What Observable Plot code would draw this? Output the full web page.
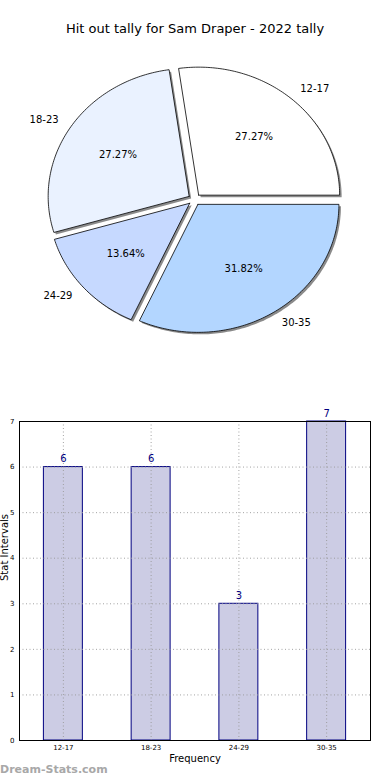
<!DOCTYPE html>
<html>
<head>
<meta charset="utf-8">
<script src="https://cdn.jsdelivr.net/npm/d3@7"></script>
<script src="https://cdn.jsdelivr.net/npm/@observablehq/plot@0.6"></script>
<style>
  html, body { margin: 0; padding: 0; background: #fff; }
  body { width: 390px; height: 780px; position: relative; overflow: hidden; font-family: "DejaVu Sans", sans-serif; }
  #title { position: absolute; top: 21px; left: 0; width: 390px; text-align: center; font-size: 13px; color: #000; }
  #pie { position: absolute; top: 0; left: 0; }
  #bar { position: absolute; top: 400px; left: 0; }
  #wm { position: absolute; top: 763px; left: 0; font-size: 11px; font-weight: bold; color: #a8a8a8; }
</style>
</head>
<body>
<div id="title">Hit out tally for Sam Draper - 2022 tally</div>
<div id="pie"></div>
<div id="bar"></div>
<div id="wm">Dream-Stats.com</div>
<script>
const categories = ["12-17", "18-23", "24-29", "30-35"];
const counts = [6, 6, 3, 7];
const pieColors = ["#ffffff", "#eaf2ff", "#c6d9ff", "#b3d6ff"];
const explode = 0.045;

const total = d3.sum(counts);
const cum = [0, ...d3.cumsum(counts)];
const slices = categories.map((c, i) => {
  const a0 = cum[i] / total * 2 * Math.PI;
  const a1 = cum[i + 1] / total * 2 * Math.PI;
  const mid = (a0 + a1) / 2;
  return { cat: c, value: counts[i], pct: (counts[i] / total * 100).toFixed(2) + "%",
           color: pieColors[i], a0, a1, mid,
           ox: explode * Math.cos(mid), oy: explode * Math.sin(mid) };
});

const poly = [];
for (const s of slices) {
  poly.push({ cat: s.cat, color: s.color, x: s.ox, y: s.oy });
  const n = Math.max(2, Math.ceil((s.a1 - s.a0) / (Math.PI / 180)));
  for (let k = 0; k <= n; k++) {
    const t = s.a0 + (s.a1 - s.a0) * k / n;
    poly.push({ cat: s.cat, color: s.color, x: s.ox + Math.cos(t), y: s.oy + Math.sin(t) });
  }
  poly.push({ cat: s.cat, color: s.color, x: s.ox, y: s.oy });
}

const labels = slices.map(s => ({
  cat: s.cat, pct: s.pct, right: Math.cos(s.mid) >= 0,
  lx: s.ox + 1.1 * Math.cos(s.mid), ly: s.oy + 1.1 * Math.sin(s.mid),
  px: s.ox + 0.6 * Math.cos(s.mid), py: s.oy + 0.6 * Math.sin(s.mid)
}));

const cx = 194, cy = 199, rx = 141, ry = 128;
const pie = Plot.plot({
  width: 390, height: 360, margin: 0,
  style: { fontFamily: "DejaVu Sans, sans-serif", background: "transparent" },
  x: { domain: [-1, 1], range: [cx - rx, cx + rx], axis: null },
  y: { domain: [-1, 1], range: [cy + ry, cy - ry], axis: null },
  color: { type: "identity" },
  marks: [
    Plot.line(poly, { x: "x", y: "y", z: "cat", fill: "#8a8a8a", stroke: "none", dx: 2, dy: 2, curve: "linear" }),
    Plot.line(poly, { x: "x", y: "y", z: "cat", fill: "color", stroke: "#000", strokeWidth: 0.8, curve: "linear" }),
    Plot.text(labels.filter(d => d.right), { x: "lx", y: "ly", text: "cat", textAnchor: "start", fontSize: 10, fill: "#000" }),
    Plot.text(labels.filter(d => !d.right), { x: "lx", y: "ly", text: "cat", textAnchor: "end", fontSize: 10, fill: "#000" }),
    Plot.text(labels, { x: "px", y: "py", text: "pct", fontSize: 10, fill: "#000" })
  ]
});
document.getElementById("pie").appendChild(pie);

const barData = categories.map((c, i) => ({ cat: c, count: counts[i] }));
const yTicks = [0, 1, 2, 3, 4, 5, 6, 7];
const bar = Plot.plot({
  width: 390, height: 380,
  marginTop: 21, marginBottom: 40, marginLeft: 19, marginRight: 20,
  style: { fontFamily: "DejaVu Sans, sans-serif", background: "transparent" },
  x: { domain: categories, paddingInner: 0.556, paddingOuter: 0.278, round: false, axis: null },
  y: { domain: [0, 7], axis: null },
  marks: [
    Plot.barY(barData, { x: "cat", y: "count", fill: "#ccccE4", stroke: "#000080", strokeWidth: 1 }),
    Plot.gridY(yTicks, { stroke: "#999", strokeOpacity: 0.9, strokeDasharray: "1,2.5" }),
    Plot.gridX(categories, { stroke: "#999", strokeOpacity: 0.9, strokeDasharray: "1,2.5" }),
    Plot.frame({ stroke: "#000", strokeWidth: 1 }),
    Plot.axisY(yTicks, { tickSize: 0, tickPadding: 5, fontSize: 7, label: null }),
    Plot.axisX({ tickSize: 0, tickPadding: 5, fontSize: 7, label: null }),
    Plot.text(["Stat Intervals"], { frameAnchor: "left", dx: -15, rotate: -90, fontSize: 10, fill: "#000" }),
    Plot.text(barData, { x: "cat", y: "count", text: d => String(d.count), dy: -8, fill: "#000080", fontSize: 10 }),
    Plot.text(["Frequency"], { frameAnchor: "bottom", dy: 21, fontSize: 10, fill: "#000" })
  ]
});
document.getElementById("bar").appendChild(bar);
</script>
</body>
</html>
